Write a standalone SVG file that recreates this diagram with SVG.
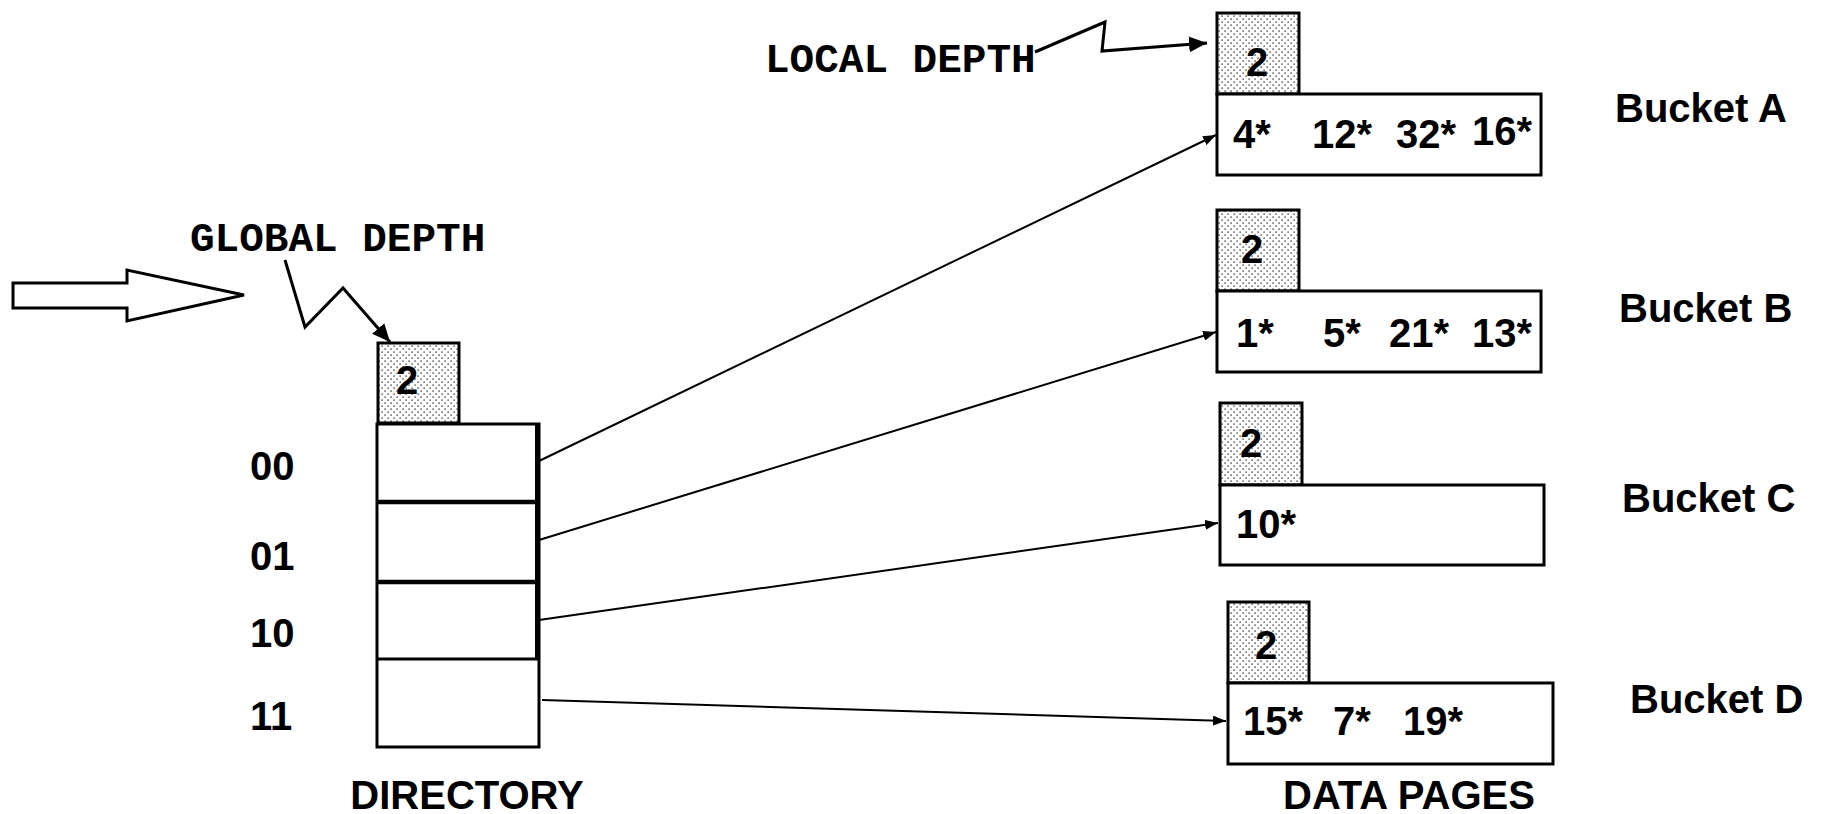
<svg xmlns="http://www.w3.org/2000/svg" width="1822" height="814" viewBox="0 0 1822 814">
<style>
.box{fill:#fff;stroke:#000;stroke-width:3}
.dot{fill:url(#dots);stroke:#000;stroke-width:3}
.t{font-family:"Liberation Sans",Arial,sans-serif;font-weight:bold;font-size:40px;fill:#000}
.m{font-family:"Liberation Mono","Courier New",monospace;font-weight:bold;font-size:41px;fill:#000}
.conn{fill:none;stroke:#000;stroke-width:2;marker-end:url(#ah)}
.zig{fill:none;stroke:#000;stroke-width:3;stroke-linejoin:miter;marker-end:url(#ahb)}
</style>
<defs>
<pattern id="dots" width="6" height="6" patternUnits="userSpaceOnUse">
<rect width="6" height="6" fill="#fff"/>
<rect x="0.5" y="0.5" width="1.2" height="1.2" fill="#000"/>
<rect x="3.5" y="3.5" width="1.2" height="1.2" fill="#000"/>
</pattern>
<marker id="ah" markerUnits="userSpaceOnUse" viewBox="0 0 13 10" refX="13" refY="5" markerWidth="13" markerHeight="10" orient="auto">
<path d="M0,0 L13,5 L0,10 z" fill="#000"/>
</marker>
<marker id="ahb" markerUnits="userSpaceOnUse" viewBox="0 0 18 16" refX="18" refY="8" markerWidth="18" markerHeight="16" orient="auto">
<path d="M0,0 L18,8 L0,16 z" fill="#000"/>
</marker>
</defs>
<rect width="1822" height="814" fill="#fff"/>

<g id="input-arrow">
<polygon points="13,283 127,283 127,270 244,295 127,321 127,308 13,308" fill="#fff" stroke="#000" stroke-width="3" stroke-linejoin="miter"/>
</g>

<g id="global-depth-label">
<text class="m" x="190" y="251">GLOBAL DEPTH</text>
</g>

<g id="local-depth-label">
<text class="m" x="765" y="72">LOCAL DEPTH</text>
</g>

<g id="directory">
<rect class="dot" x="378" y="343" width="81" height="80"/>
<text class="t" x="396" y="394">2</text>
<rect class="box" x="377" y="424" width="162" height="323"/>
<line x1="377" y1="502" x2="539" y2="502" stroke="#000" stroke-width="4.5"/>
<line x1="377" y1="582" x2="539" y2="582" stroke="#000" stroke-width="4.5"/>
<line x1="377" y1="659" x2="539" y2="659" stroke="#000" stroke-width="3"/>
<line x1="536.5" y1="424" x2="536.5" y2="659" stroke="#000" stroke-width="3"/>
<text class="t" x="250" y="480">00</text>
<text class="t" x="250" y="570">01</text>
<text class="t" x="250" y="647">10</text>
<text class="t" x="250" y="730">11</text>
<text class="t" x="467" y="809" text-anchor="middle">DIRECTORY</text>
</g>

<g id="bucket-a">
<rect class="dot" x="1217" y="13" width="82" height="81"/>
<text class="t" x="1246" y="76">2</text>
<rect class="box" x="1217" y="94" width="324" height="81"/>
<text class="t" x="1233" y="148">4*</text>
<text class="t" x="1312" y="148">12*</text>
<text class="t" x="1396" y="148">32*</text>
<text class="t" x="1472" y="145">16*</text>
<text class="t" x="1615" y="122">Bucket A</text>
</g>

<g id="bucket-b">
<rect class="dot" x="1217" y="210" width="82" height="81"/>
<text class="t" x="1241" y="263">2</text>
<rect class="box" x="1217" y="291" width="324" height="81"/>
<text class="t" x="1236" y="347">1*</text>
<text class="t" x="1323" y="347">5*</text>
<text class="t" x="1389" y="347">21*</text>
<text class="t" x="1472" y="347">13*</text>
<text class="t" x="1619" y="322">Bucket B</text>
</g>

<g id="bucket-c">
<rect class="dot" x="1220" y="403" width="82" height="82"/>
<text class="t" x="1240" y="457">2</text>
<rect class="box" x="1220" y="485" width="324" height="80"/>
<text class="t" x="1236" y="538">10*</text>
<text class="t" x="1622" y="512">Bucket C</text>
</g>

<g id="bucket-d">
<rect class="dot" x="1228" y="602" width="81" height="81"/>
<text class="t" x="1255" y="659">2</text>
<rect class="box" x="1228" y="683" width="325" height="81"/>
<text class="t" x="1243" y="735">15*</text>
<text class="t" x="1333" y="735">7*</text>
<text class="t" x="1403" y="735">19*</text>
<text class="t" x="1630" y="713">Bucket D</text>
</g>

<g id="data-pages-label">
<text class="t" x="1409" y="809" text-anchor="middle">DATA PAGES</text>
</g>

<g id="connectors">
<polyline class="zig" points="285,260 305,327 343,288 390,342"/>
<polyline class="zig" points="1035,52 1105,22 1102,51 1207,43"/>
<line class="conn" x1="539" y1="461" x2="1216" y2="135"/>
<line class="conn" x1="539" y1="540" x2="1216" y2="332"/>
<line class="conn" x1="539" y1="620" x2="1218" y2="523"/>
<line class="conn" x1="542" y1="700" x2="1226" y2="721"/>
</g>
</svg>
